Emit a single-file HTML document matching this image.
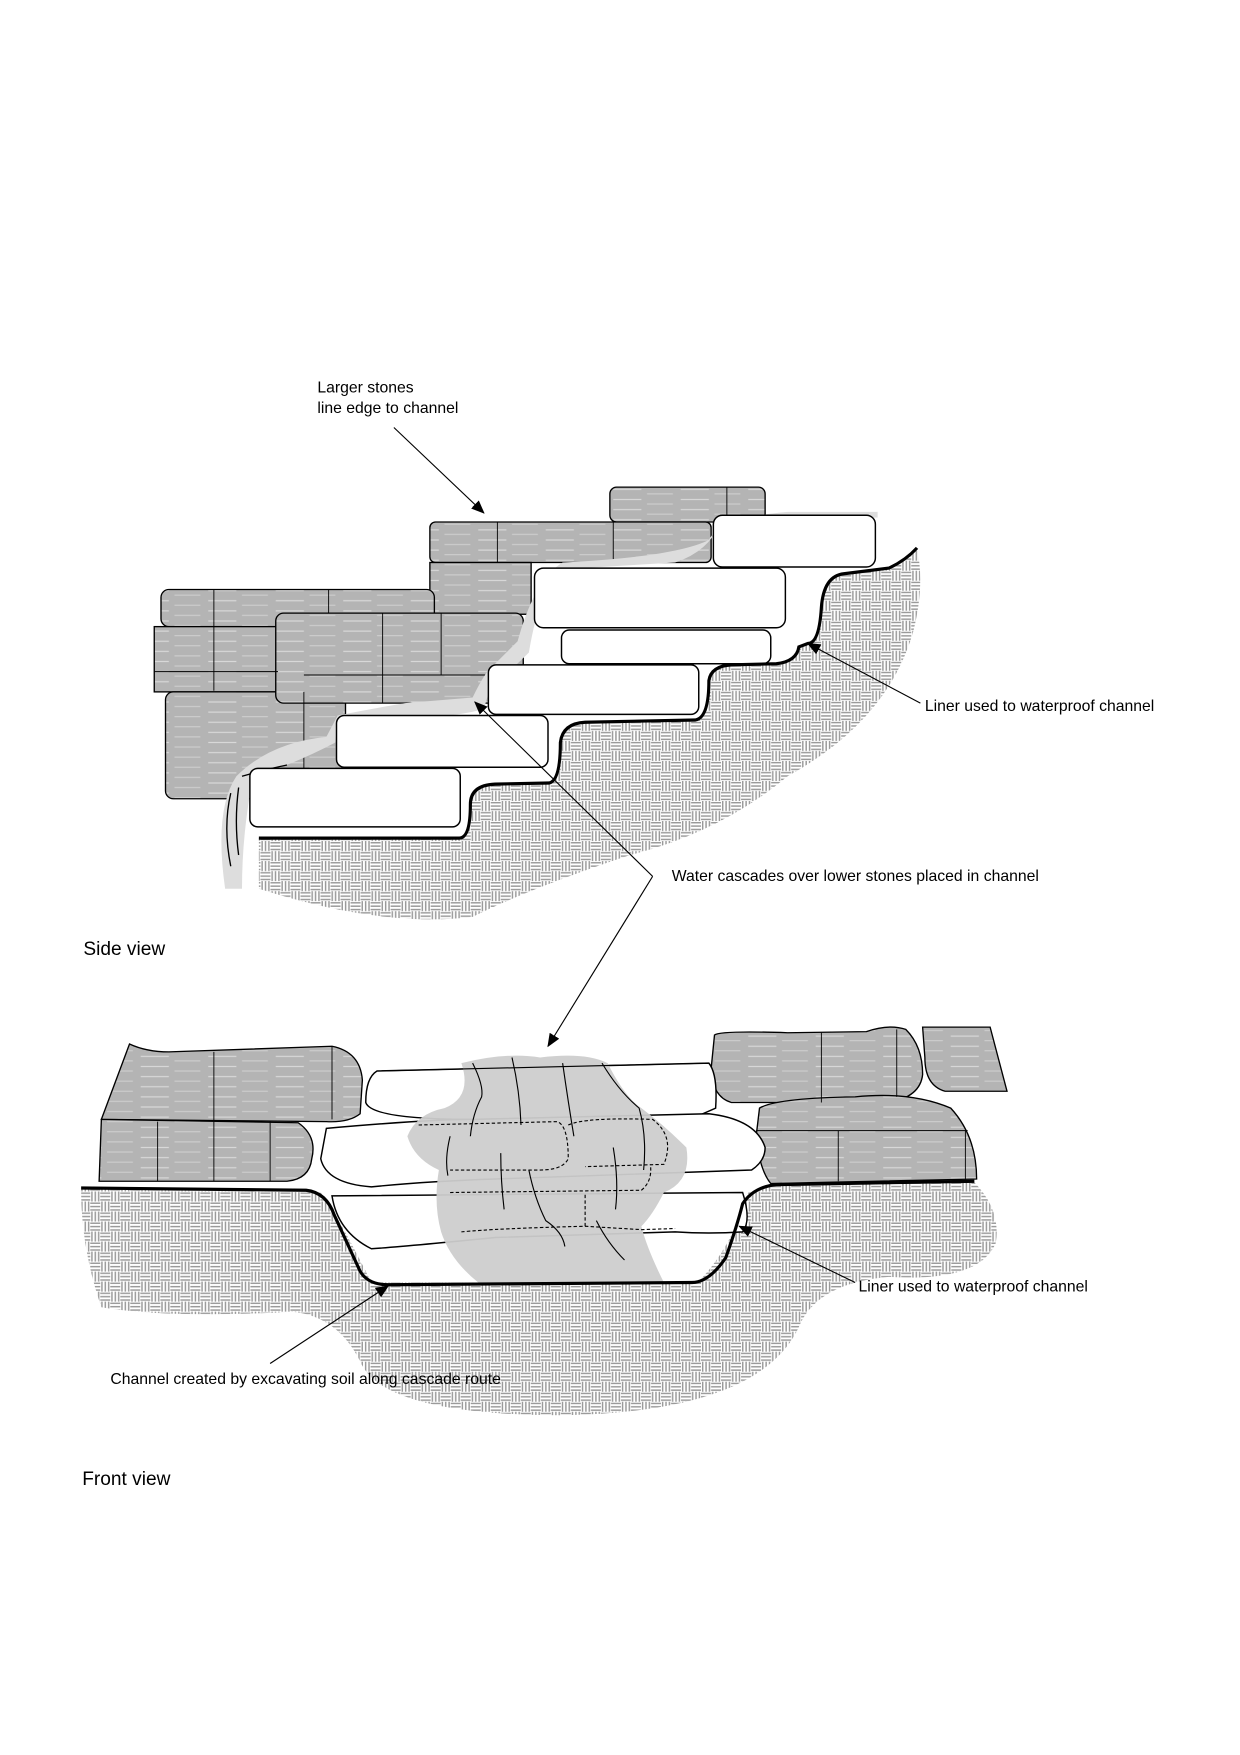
<!DOCTYPE html>
<html><head><meta charset="utf-8"><style>
html,body{margin:0;padding:0;background:#fff}
svg{display:block}
text{font-family:"Liberation Sans",Arial,sans-serif;fill:#000}
</style></head><body>
<svg width="1240" height="1755" viewBox="0 0 1102 1560" xmlns="http://www.w3.org/2000/svg">
<defs>
<pattern id="h" patternUnits="userSpaceOnUse" width="17.8" height="17.8">
<rect width="17.8" height="17.8" fill="#fff"/>
<g stroke="#999" stroke-width="1.3">
<line x1="1.5" y1="0" x2="1.5" y2="8.9"/><line x1="4.5" y1="0" x2="4.5" y2="8.9"/><line x1="7.5" y1="0" x2="7.5" y2="8.9"/>
<line x1="8.9" y1="1.5" x2="17.8" y2="1.5"/><line x1="8.9" y1="4.5" x2="17.8" y2="4.5"/><line x1="8.9" y1="7.5" x2="17.8" y2="7.5"/>
<line x1="0" y1="10.4" x2="8.9" y2="10.4"/><line x1="0" y1="13.4" x2="8.9" y2="13.4"/><line x1="0" y1="16.4" x2="8.9" y2="16.4"/>
<line x1="10.4" y1="8.9" x2="10.4" y2="17.8"/><line x1="13.4" y1="8.9" x2="13.4" y2="17.8"/><line x1="16.4" y1="8.9" x2="16.4" y2="17.8"/>
</g></pattern>
<pattern id="s" patternUnits="userSpaceOnUse" width="60" height="9">
<rect width="60" height="9" fill="#b4b4b4"/>
<line x1="5" y1="3" x2="30" y2="3" stroke="#d8d8d8" stroke-width="1"/>
<line x1="35" y1="7" x2="58" y2="7" stroke="#cfcfcf" stroke-width="1"/>
</pattern>
<marker id="a" markerWidth="12" markerHeight="10" refX="11" refY="5" orient="auto" markerUnits="userSpaceOnUse">
<path d="M0,0 L12,5 L0,10 z" fill="#000"/></marker>
</defs>

<!-- SIDE VIEW -->
<path d="M230,745 L408,745 Q418,745 418,715 Q418,698 440,697 L488,696 Q498,694 498,660 Q500,643 520,642 L618,640 Q630,638 630,605 Q632,592 650,591 L690,590 Q708,588 710,575 L718,572 Q728,572 730,540 Q732,512 750,510 L790,505 Q805,498 815,487 Q822,520 812,560 Q790,640 700,690 Q640,740 560,760 Q470,790 420,815 Q340,825 230,790 Z" fill="url(#h)"/>
<g stroke="#000" stroke-width="1.2" fill="url(#s)">
<rect x="542" y="433" width="138" height="31" rx="6"/>
<rect x="382" y="464" width="250" height="36" rx="5"/>
<rect x="382" y="500" width="90" height="46"/>
<rect x="143" y="524" width="243" height="33" rx="7"/>
<rect x="137" y="557" width="110" height="58"/>
<rect x="147" y="615" width="160" height="95" rx="7"/>
<rect x="245" y="545" width="220" height="80" rx="7"/>
</g>
<g stroke="#000" stroke-width="0.8">
<line x1="442" y1="464" x2="442" y2="500"/><line x1="545" y1="464" x2="545" y2="500"/><line x1="646" y1="433" x2="646" y2="464"/>
<line x1="190" y1="524" x2="190" y2="614"/><line x1="292" y1="524" x2="292" y2="545"/>
<line x1="340" y1="545" x2="340" y2="625"/><line x1="392" y1="545" x2="392" y2="600"/>
<line x1="137" y1="597" x2="247" y2="597"/><line x1="270" y1="600" x2="465" y2="600"/>
<line x1="270" y1="615" x2="270" y2="700"/>
</g>
<path d="M200,790 Q190,720 210,690 Q240,660 290,655 L300,636 Q330,630 360,625 L420,620 Q432,595 440,590 L460,570 Q475,515 500,500 Q600,495 630,480 Q640,460 700,455 L780,455 L780,460 L640,465 Q630,490 600,500 L500,506 Q480,520 470,580 Q450,600 436,610 L430,630 Q400,640 300,640 L298,660 Q260,680 225,690 Q215,740 215,790 Z" fill="#ddd"/>
<g stroke="#000" stroke-width="1.2" fill="none"><path d="M205,705 Q198,735 205,770"/><path d="M212,700 Q208,730 212,760"/><path d="M215,690 Q240,683 255,680"/></g>
<g stroke="#000" stroke-width="1.3" fill="#fff">
<rect x="634" y="458" width="144" height="46" rx="8"/>
<rect x="475" y="505" width="223" height="53" rx="8"/>
<rect x="499" y="560" width="186" height="30" rx="7"/>
<rect x="434" y="591" width="187" height="44" rx="7"/>
<rect x="299" y="636" width="188" height="46" rx="7"/>
<rect x="222" y="683" width="187" height="52" rx="7"/>
</g>
<path d="M230,745 L408,745 Q418,745 418,715 Q418,698 440,697 L488,696 Q498,694 498,660 Q500,643 520,642 L618,640 Q630,638 630,605 Q632,592 650,591 L690,590 Q708,588 710,575 L718,572 Q728,572 730,540 Q732,512 750,510 L790,505 Q805,498 815,487" fill="none" stroke="#000" stroke-width="2.8"/>

<text x="282" y="349" font-size="14">Larger stones</text>
<text x="282" y="367" font-size="14">line edge to channel</text>
<line x1="350" y1="380" x2="430" y2="456" stroke="#000" stroke-width="1" marker-end="url(#a)"/>
<text x="822" y="632" font-size="14">Liner used to waterproof channel</text>
<line x1="818" y1="625" x2="718" y2="572" stroke="#000" stroke-width="1" marker-end="url(#a)"/>
<text x="597" y="783" font-size="14">Water cascades over lower stones placed in channel</text>
<line x1="580" y1="779" x2="422" y2="624" stroke="#000" stroke-width="1" marker-end="url(#a)"/>
<line x1="580" y1="779" x2="487" y2="930" stroke="#000" stroke-width="1" marker-end="url(#a)"/>
<text x="74" y="849" font-size="17">Side view</text>

<!-- FRONT VIEW -->
<path d="M72,1057 L285,1060 Q300,1080 330,1140 L620,1140 Q650,1110 665,1060 L690,1052 L865,1050 Q890,1075 885,1105 Q870,1140 790,1135 Q730,1140 712,1175 Q680,1255 500,1258 Q340,1258 320,1210 Q300,1170 260,1166 Q150,1172 90,1162 Q72,1110 72,1057 Z" fill="url(#h)"/>
<g stroke="#000" stroke-width="1.2" fill="url(#s)">
<path d="M115,928 Q130,935 150,935 L295,930 Q320,935 322,960 L320,990 Q310,998 290,997 L90,995 Z"/>
<path d="M90,995 L265,998 Q282,1010 277,1030 Q275,1048 255,1050 L88,1050 Z"/>
<path d="M635,920 Q640,916 700,918 L770,917 Q790,910 805,915 Q820,930 820,955 Q818,975 790,980 L650,980 Q633,975 632,950 Z"/>
<path d="M820,913 L880,913 L895,970 L840,970 Q822,965 822,940 Z"/>
<path d="M675,985 Q690,976 760,975 Q810,970 845,985 Q868,1010 868,1048 L685,1052 Q675,1040 672,1010 Z"/>
</g>
<g stroke="#000" stroke-width="0.8">
<line x1="190" y1="935" x2="190" y2="1050"/><line x1="295" y1="930" x2="295" y2="995"/><line x1="140" y1="997" x2="140" y2="1050"/><line x1="240" y1="997" x2="240" y2="1050"/>
<line x1="730" y1="918" x2="730" y2="980"/><line x1="797" y1="915" x2="797" y2="975"/><line x1="745" y1="1005" x2="745" y2="1050"/><line x1="858" y1="1005" x2="858" y2="1050"/><line x1="672" y1="1005" x2="860" y2="1005"/>
</g>
<g stroke="#000" stroke-width="1.3" fill="#fff">
<path d="M335,952 L630,945 Q638,955 636,985 L620,992 L420,995 Q330,995 325,980 Q325,958 335,952 Z"/>
<path d="M290,1003 Q380,995 420,995 L630,990 Q672,995 680,1020 Q680,1032 668,1040 L440,1048 Q380,1050 330,1055 Q290,1052 285,1030 Z"/>
<path d="M295,1063 L660,1060 Q668,1085 660,1095 Q630,1097 600,1095 L440,1100 Q360,1108 330,1110 Q300,1095 295,1063 Z"/>
</g>
<path d="M410,945 Q450,935 480,940 Q520,935 540,945 Q555,975 570,985 Q590,1000 610,1020 Q615,1050 590,1060 Q580,1080 570,1090 Q575,1110 590,1140 L425,1140 Q400,1120 392,1095 Q385,1070 390,1040 Q368,1030 362,1010 Q370,990 395,985 Q420,975 410,945 Z" fill="#cdcdcd" opacity="0.95"/>
<g stroke="#000" stroke-width="1" fill="none">
<path d="M335,952 L630,945"/>
<path d="M420,945 Q430,965 428,975 Q420,990 418,1010"/><path d="M455,940 Q462,970 463,1000"/><path d="M500,945 Q505,980 510,1010"/><path d="M535,945 Q550,970 568,985 Q575,1010 572,1040"/>
<path d="M400,1010 Q395,1030 398,1045"/><path d="M445,1025 Q445,1050 448,1075"/><path d="M470,1040 Q475,1065 485,1085 Q500,1095 502,1108"/><path d="M545,1020 Q550,1050 547,1075"/><path d="M530,1085 Q540,1105 555,1120"/>
</g>
<g stroke="#000" stroke-width="1" fill="none" stroke-dasharray="3,2">
<path d="M372,1000 L495,997 Q505,1000 505,1030 Q500,1040 480,1040 L400,1040"/>
<path d="M505,1000 Q520,993 580,995 Q600,1010 590,1035 L520,1037"/>
<path d="M400,1060 L570,1058 Q580,1050 578,1035"/>
<path d="M410,1095 Q440,1092 520,1090 L570,1093 L600,1092"/>
<path d="M520,1062 L520,1090"/>
</g>
<path d="M72,1056 L272,1058 Q290,1060 297,1080 L320,1130 Q327,1142 345,1142 L615,1140 Q630,1140 645,1118 Q655,1090 660,1070 Q670,1055 690,1053 L866,1050" fill="none" stroke="#000" stroke-width="2.8"/>

<text x="763" y="1148" font-size="14">Liner used to waterproof channel</text>
<line x1="760" y1="1140" x2="657" y2="1090" stroke="#000" stroke-width="1" marker-end="url(#a)"/>
<text x="98" y="1230" font-size="14">Channel created by excavating soil along cascade route</text>
<line x1="240" y1="1212" x2="345" y2="1143" stroke="#000" stroke-width="1" marker-end="url(#a)"/>
<text x="73" y="1320" font-size="17">Front view</text>
</svg>
</body></html>
